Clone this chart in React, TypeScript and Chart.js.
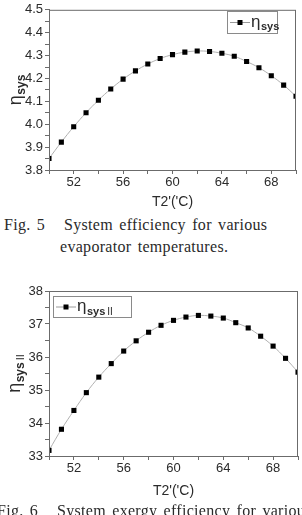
import React, { useEffect, useRef } from "react";
import { Chart, registerables } from "chart.js";

Chart.register(...registerables);

// Evaporator temperature T2' (°C)
const temperatures = [50, 51, 52, 53, 54, 55, 56, 57, 58, 59, 60, 61, 62, 63, 64, 65, 66, 67, 68, 69, 70];
// System (energy) efficiency η_sys
const systemEfficiency = [
  3.85, 3.922, 3.989, 4.05, 4.105, 4.154, 4.197, 4.233, 4.263, 4.287, 4.304,
  4.315, 4.32, 4.318, 4.31, 4.297, 4.274, 4.247, 4.212, 4.171, 4.122,
];
// System exergy efficiency η_sys II
const exergyEfficiency = [
  33.17, 33.81, 34.38, 34.92, 35.39, 35.8, 36.18, 36.49, 36.75, 36.96, 37.11,
  37.21, 37.26, 37.24, 37.18, 37.04, 36.88, 36.63, 36.33, 35.96, 35.54,
];
const xTickLabels = [52, 56, 60, 64, 68];
const yTickLabelsSys = [3.8, 3.9, 4.0, 4.1, 4.2, 4.3, 4.4, 4.5];
const yTickLabelsExergy = [33, 34, 35, 36, 37, 38];

const xTitle = "T2'('C)";
const etaSymbol = "η";

type Area = { left: number; top: number; right: number; bottom: number };
type Box = { x: number; y: number; w: number; h: number };

interface PanelProps {
  width: number;
  height: number;
  area: Area;
  values: number[];
  yMin: number;
  yMax: number;
  yStep: number;
  yLabels: number[];
  yDecimals: number;
  subscript: string;
  suffix: string;
  legend: Box;
  yTitleX: number;
  xTitleY: number;
}

const AXIS_COLOR = "#6b6b6b";
const TEXT_COLOR = "#2b2b2b";
const SANS = "'Liberation Sans', Arial, sans-serif";

function drawSymbol(
  ctx: CanvasRenderingContext2D,
  x: number,
  y: number,
  subscript: string,
  suffix: string,
  etaSize: number
) {
  // η with a bold "sys" subscript and an optional roman-numeral suffix
  ctx.textBaseline = "alphabetic";
  ctx.textAlign = "left";
  ctx.fillStyle = TEXT_COLOR;
  ctx.font = `${etaSize}px ${SANS}`;
  ctx.fillText(etaSymbol, x, y);
  let cx = x + ctx.measureText(etaSymbol).width + 0.5;
  const subSize = Math.round(etaSize * 0.66);
  ctx.font = `bold ${subSize}px ${SANS}`;
  ctx.fillText(subscript, cx, y + etaSize * 0.22);
  cx += ctx.measureText(subscript).width;
  if (suffix) {
    ctx.font = `${subSize - 1}px ${SANS}`;
    ctx.fillText(suffix, cx + 2, y + etaSize * 0.22);
  }
}

function symbolWidth(ctx: CanvasRenderingContext2D, subscript: string, suffix: string, etaSize: number) {
  ctx.font = `${etaSize}px ${SANS}`;
  let w = ctx.measureText(etaSymbol).width + 0.5;
  const subSize = Math.round(etaSize * 0.66);
  ctx.font = `bold ${subSize}px ${SANS}`;
  w += ctx.measureText(subscript).width;
  if (suffix) {
    ctx.font = `${subSize - 1}px ${SANS}`;
    w += ctx.measureText(suffix).width + 2;
  }
  return w;
}

function ChartPanel(props: PanelProps) {
  const ref = useRef<HTMLCanvasElement | null>(null);

  useEffect(() => {
    const canvas = ref.current;
    if (!canvas) return;
    const { area, width, height } = props;

    const decorations = {
      id: "decorations",
      afterDraw(chart: any) {
        const ctx: CanvasRenderingContext2D = chart.ctx;
        const ca = chart.chartArea;
        ctx.save();
        // frame around the plot
        ctx.strokeStyle = AXIS_COLOR;
        ctx.lineWidth = 1;
        ctx.strokeRect(ca.left + 0.5, ca.top + 0.5, ca.right - ca.left - 1, ca.bottom - ca.top);

        // x axis title
        ctx.fillStyle = TEXT_COLOR;
        ctx.font = `14px ${SANS}`;
        ctx.textAlign = "center";
        ctx.textBaseline = "middle";
        ctx.fillText(xTitle, (ca.left + ca.right) / 2, props.xTitleY);

        // y axis title, rotated
        ctx.save();
        const midY = (ca.top + ca.bottom) / 2;
        ctx.translate(props.yTitleX, midY);
        ctx.rotate(-Math.PI / 2);
        const w = symbolWidth(ctx, props.subscript, props.suffix, 18);
        drawSymbol(ctx, -w / 2, 5, props.subscript, props.suffix, 18);
        ctx.restore();

        // legend
        const lg = props.legend;
        ctx.strokeStyle = "#8a8a8a";
        ctx.lineWidth = 1;
        ctx.strokeRect(lg.x + 0.5, lg.y + 0.5, lg.w, lg.h);
        const cy = lg.y + lg.h / 2 + 0.5;
        ctx.strokeStyle = "#9a9a9a";
        ctx.beginPath();
        ctx.moveTo(lg.x + 3, cy);
        ctx.lineTo(lg.x + 23, cy);
        ctx.stroke();
        ctx.fillStyle = "#000";
        ctx.fillRect(lg.x + 10.5, cy - 2.5, 5, 5);
        drawSymbol(ctx, lg.x + 24, cy + 4, props.subscript, props.suffix, 17);
        ctx.restore();
      },
    };

    const points = temperatures.map((t, i) => ({ x: t, y: props.values[i] }));

    const chart = new Chart(canvas, {
      type: "line",
      data: {
        datasets: [
          {
            data: points,
            borderColor: "#b0b0b0",
            borderWidth: 1,
            tension: 0.4,
            pointStyle: "rect",
            pointRadius: 3.6,
            pointBorderWidth: 0,
            pointBackgroundColor: "#000",
          },
        ],
      },
      options: {
        animation: false,
        responsive: false,
        devicePixelRatio: 1,
        layout: { padding: { left: 0, top: area.top, right: width - area.right, bottom: 0 } },
        plugins: { legend: { display: false }, tooltip: { enabled: false } },
        scales: {
          x: {
            type: "linear",
            min: 50,
            max: 70,
            afterFit(axis: any) {
              axis.height = height - area.bottom;
            },
            grid: { drawOnChartArea: false, drawTicks: true, tickLength: 4, color: AXIS_COLOR },
            border: { display: true, color: AXIS_COLOR },
            ticks: {
              stepSize: 2,
              autoSkip: false,
              maxRotation: 0,
              padding: 1,
              color: TEXT_COLOR,
              font: { family: SANS, size: 13 },
              callback: (v: any) => (xTickLabels.includes(Number(v)) ? String(v) : ""),
            },
          },
          y: {
            type: "linear",
            min: props.yMin,
            max: props.yMax,
            afterFit(axis: any) {
              axis.width = area.left;
            },
            grid: { drawOnChartArea: false, drawTicks: true, tickLength: 4, color: AXIS_COLOR },
            border: { display: true, color: AXIS_COLOR },
            ticks: {
              stepSize: props.yStep,
              autoSkip: false,
              padding: 2,
              color: TEXT_COLOR,
              font: { family: SANS, size: 13 },
              callback: (v: any) => {
                const n = Number(v);
                const hit = props.yLabels.find((l) => Math.abs(l - n) < 1e-6);
                return hit === undefined ? "" : hit.toFixed(props.yDecimals);
              },
            },
          },
        },
      },
      plugins: [decorations],
    } as any);

    return () => chart.destroy();
  }, []);

  return <canvas ref={ref} width={props.width} height={props.height} style={{ display: "block", width: props.width, height: props.height }} />;
}

const captionStyle: React.CSSProperties = {
  position: "absolute",
  fontFamily: "'Liberation Serif', 'Times New Roman', serif",
  fontSize: 16,
  lineHeight: "22px",
  color: "#2a2a2a",
  whiteSpace: "pre",
  wordSpacing: 2,
  letterSpacing: 0.3,
};

export default function App() {
  return (
    <div
      style={{
        position: "fixed",
        left: 0,
        top: 0,
        width: 302,
        height: 515,
        overflow: "hidden",
        background: "#fff",
      }}
    >
      <div style={{ position: "absolute", left: 0, top: 0 }}>
        <ChartPanel
          width={302}
          height={210}
          area={{ left: 49, top: 7, right: 296, bottom: 170 }}
          values={systemEfficiency}
          yMin={3.8}
          yMax={4.5}
          yStep={0.05}
          yLabels={yTickLabelsSys}
          yDecimals={1}
          subscript="sys"
          suffix=""
          legend={{ x: 227, y: 11, w: 50, h: 22 }}
          yTitleX={16}
          xTitleY={202}
        />
      </div>
      <div style={{ ...captionStyle, left: 4, top: 214 }}>{"Fig. 5   System efficiency for various"}</div>
      <div style={{ ...captionStyle, left: 60, top: 236 }}>{"evaporator temperatures."}</div>
      <div style={{ position: "absolute", left: 0, top: 262 }}>
        <ChartPanel
          width={302}
          height={240}
          area={{ left: 49, top: 29, right: 301, bottom: 194 }}
          values={exergyEfficiency}
          yMin={33}
          yMax={38}
          yStep={0.5}
          yLabels={yTickLabelsExergy}
          yDecimals={0}
          subscript="sys"
          suffix="II"
          legend={{ x: 53, y: 34, w: 78, h: 21 }}
          yTitleX={15}
          xTitleY={229}
        />
      </div>
      <div style={{ ...captionStyle, left: -3, top: 500 }}>{"Fig. 6   System exergy efficiency for various"}</div>
    </div>
  );
}
